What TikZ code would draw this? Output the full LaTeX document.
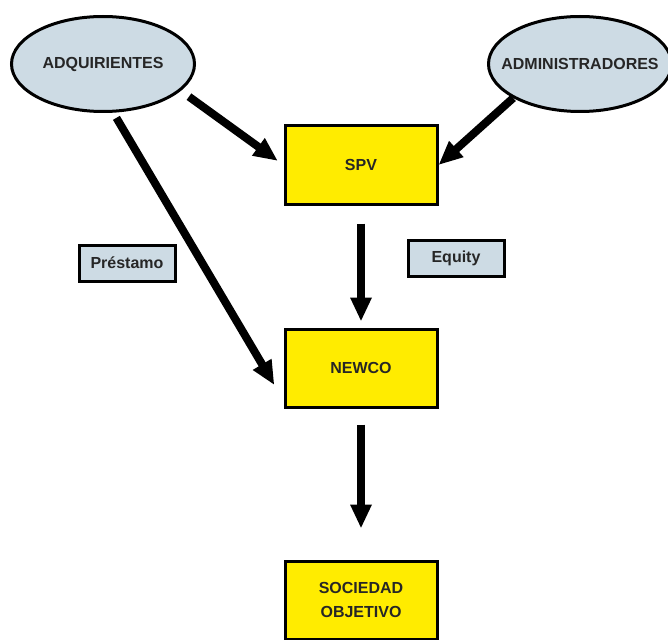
\documentclass[tikz,border=0pt]{standalone}
\usepackage{fontspec}
\setmainfont{Liberation Sans}
\usetikzlibrary{shapes, arrows.meta}
\definecolor{celeste}{RGB}{205,219,228}
\definecolor{amarillo}{RGB}{255,236,0}
\tikzstyle{socio}=[draw, ellipse, fill=celeste, line width=3pt, 
minimum height=95pt, minimum width=183pt, inner xsep=-16pt,
text=black!85, font=\fontsize{16}{19}\selectfont\bfseries]
\tikzstyle{sociedad}=[draw, rectangle, fill=amarillo, line width=3pt, 
minimum height=78pt, minimum width=152pt, align=center,
text=black!85, font=\fontsize{16}{24}\selectfont\bfseries]
\tikzstyle{aporte}=[draw, rectangle, fill=celeste, line width=3pt, 
minimum height=36pt, minimum width=96pt, text=black!85,
font=\fontsize{16}{19}\selectfont\bfseries]
\tikzstyle{flecha}=[->, line width=8pt]

\begin{document}
\begin{tikzpicture}[x=1pt, y=-1pt, node distance=203pt, >={Triangle[length=24pt, width=20pt]}]
		\useasboundingbox (0,0) rectangle (668,639);
		\node[socio] (adquirientes) at (103,64) {ADQUIRIENTES};
		\node[socio] (administradores) at (580,64) {ADMINISTRADORES};
		\node[sociedad] (spv) at (361,165) {SPV};
		\node[sociedad, below of=spv] (newco) {NEWCO};
		\node[sociedad, below of=newco, node distance=232pt] (objetivo) {SOCIEDAD\\OBJETIVO};
		\node[aporte] (prestamo) at (127,263) {Préstamo};
		\node[aporte] (equity) at (456,258) {Equity};
		\draw[flecha, shorten <=10pt, shorten >=7pt] (adquirientes.-19) -- (spv.west);
		\draw[flecha] (administradores.207) -- (spv.east);
		\draw[flecha, shorten <=6pt, shorten >=18pt] (adquirientes.-78) 
		-- ([yshift=8pt]newco.south west);
		\draw[flecha, shorten <=18pt, shorten >=6pt] (spv) -- (newco);
		\draw[flecha, shorten <=16pt, shorten >=31pt] (newco) -- (objetivo);
	\end{tikzpicture}
\end{document}
